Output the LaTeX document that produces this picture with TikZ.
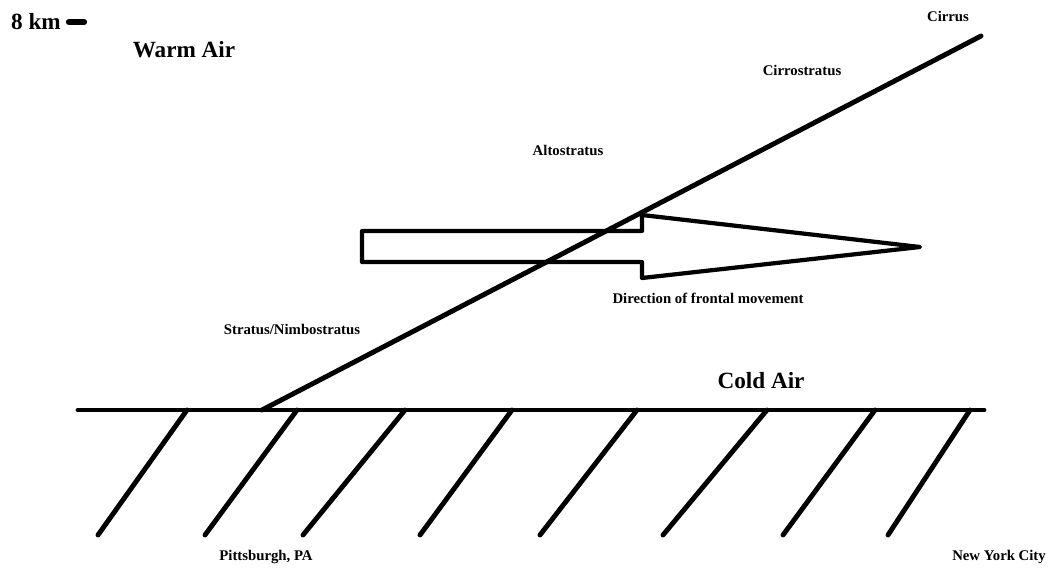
\documentclass[tikz,border=0pt]{standalone}
\usepackage{fontspec}
\setmainfont{Liberation Serif}
\usepackage{tikz}
\usetikzlibrary{arrows.meta}

\tikzset{
	heavy/.style={line width=3.5pt, line cap=round, line join=round},
	bigtext/.style={font=\fontsize{16.5}{18}\selectfont\bfseries, inner sep=0pt},
	smalltext/.style={font=\fontsize{10.5}{12}\selectfont\bfseries, inner sep=0pt}
}

\begin{document}
\begin{tikzpicture}
					[x=0.025cm, y=-0.025cm]
					\useasboundingbox (0,0) rectangle (1050,571);
					% text
					\node[bigtext] (km) at (36, 22) {8 km};
					\node[bigtext] (warm) at (184, 50) {Warm Air};
					\node[bigtext] (cold) at (761, 381) {Cold Air};
					\node[smalltext] (cirrus) at (948, 16) {Cirrus};
					\node[smalltext] (cirrostratus) at (802, 70) {Cirrostratus};
					\node[smalltext] (alto) at (568, 150) {Altostratus};
					\node[smalltext] (nimbo) at (292, 329) {Stratus/Nimbostratus};
					\node[smalltext] (direction) at (708, 298) {Direction of frontal movement};
					\node[smalltext] (pitt) at (266, 557) {Pittsburgh, PA};
					\node[smalltext] (nyc) at (999, 557) {New York City};
					% height mark
					\coordinate (mark a) at (69, 22);
					\coordinate (mark b) at (84, 22);
					\draw [heavy, line width=4.5pt] (mark a) -- (mark b);
					% ground
					\coordinate (ground w) at (78, 410);
					\coordinate (ground e) at (984, 410);
					\draw [heavy] (ground w) -- (ground e);
					\foreach \t/\b in {187/98, 297/205, 405/303, 512/420, 637/540, 767/663, 875/783, 970/888}
						\draw [heavy] (\t, 410) -- (\b, 535);
					% front
					\coordinate (front foot) at (262, 410);
					\coordinate (front top) at (981, 36);
					\draw [heavy] (front foot) -- (front top);
					% arrow
					\draw [heavy, line width=3pt] (362, 231) -- (642, 231) -- (642, 215) -- (920, 247)
						-- (642, 278) -- (642, 262) -- (362, 262) -- cycle;
				\end{tikzpicture}
\end{document}
